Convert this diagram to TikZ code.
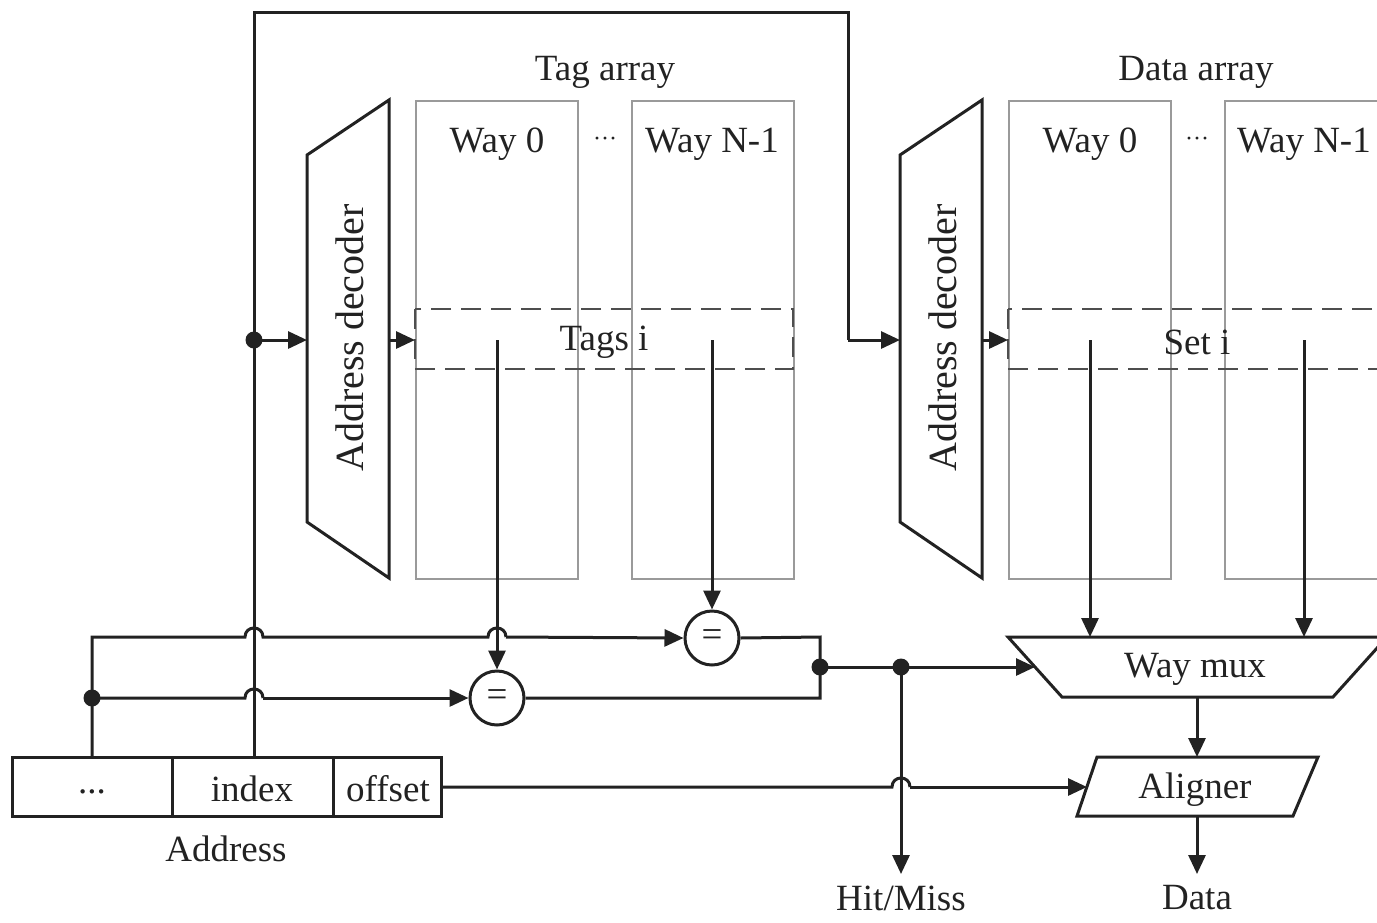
\documentclass[tikz,border=0pt]{standalone}
\usepackage{fontspec}
\setmainfont{Liberation Serif}
\usetikzlibrary{arrows.meta}
\definecolor{ink}{HTML}{222222}
\definecolor{wayc}{HTML}{9A9A9A}
\begin{document}
\begin{tikzpicture}[x=1pt,y=-1pt,
  every node/.style={font=\fontsize{37}{40}\selectfont, text=ink, inner sep=0pt},
  lbl/.style={yshift=-4pt},
  ln/.style={draw=ink, line width=3pt},
  arr/.style={ln, -{Triangle[length=19pt,width=17pt]}},
  waybox/.style={draw=wayc, line width=2.2pt, anchor=north west, minimum width=162pt, minimum height=478pt},
  dashbox/.style={draw=ink!80, line width=2.8pt, dash pattern=on 20pt off 10pt},
  shp/.style={draw=ink, line width=3pt, line join=miter},
  cmp/.style={draw=ink, line width=3pt, circle, minimum size=54pt, fill=white},
  jdot/.style={circle, fill=ink, minimum size=17pt},
  dotsl/.style={font=\fontsize{24}{26}\selectfont}]
\useasboundingbox (0,0) rectangle (1377,922);
\clip (0,0) rectangle (1377,922);

% ---------- Tag array ----------
\node[waybox] (tw0) at (415,100) {};
\node[waybox] (twN) at (631,100) {};
\draw[dashbox] (415,309) rectangle (793,369);
\node[lbl] (tagl) at (605,68) {Tag array};
\node[lbl] (tw0l) at (497,140) {Way 0};
\node[lbl] (twNl) at (712,140) {Way N-1};
\node[dotsl,lbl] (tdots) at (605,138) {\textperiodcentered\textperiodcentered\textperiodcentered};
\node[lbl] (tagsi) at (604,338) {Tags i};

\draw[shp] (307,155) -- (389,100) -- (389,578) -- (307,522) -- cycle;
\node[rotate=90, font=\fontsize{40}{42}\selectfont] (tdec) at (350,338) {Address decoder};
\coordinate (tdecL) at (307,340);
\coordinate (tdecR) at (389,340);
\coordinate (tarrL) at (415,340);

% ---------- Data array ----------
\node[waybox] (dw0) at (1008,100) {};
\node[waybox] (dwN) at (1224,100) {};
\draw[dashbox] (1008,309) rectangle (1400,369);
\node[lbl] (datl) at (1196,68) {Data array};
\node[lbl] (dw0l) at (1090,140) {Way 0};
\node[lbl] (dwNl) at (1304,140) {Way N-1};
\node[dotsl,lbl] (ddots) at (1197,138) {\textperiodcentered\textperiodcentered\textperiodcentered};
\node[lbl] (seti) at (1197,338) {Set i};

\draw[shp] (900,155) -- (982,100) -- (982,578) -- (900,522) -- cycle;
\node[rotate=90, font=\fontsize{40}{42}\selectfont] (ddec) at (943,338) {Address decoder};
\coordinate (ddecL) at (900,340);
\coordinate (ddecR) at (982,340);
\coordinate (darrL) at (1008,340);

% ---------- Way mux and aligner ----------
\draw[shp] (1008,637) -- (1387,637) -- (1333,697) -- (1062,697) -- cycle;
\node[lbl] (wmux) at (1195,665) {Way mux};
\coordinate (wmuxL) at (1035,667);
\coordinate (wmuxB) at (1197,697);
\coordinate (wmuxT0) at (1090,637);
\coordinate (wmuxTN) at (1304,637);

\draw[shp] (1097,757) -- (1318,757) -- (1293,816) -- (1077,816) -- cycle;
\node[lbl] (alig) at (1195,786) {Aligner};
\coordinate (aligT) at (1197,757);
\coordinate (aligB) at (1197,816);
\coordinate (aligL) at (1087,787);

\node (datao) at (1197,898) {Data};
\coordinate (dataT) at (1197,874);
\node (hitm) at (901,898) {Hit/Miss};
\coordinate (hitT) at (901,874);

% ---------- Address ----------
\draw[shp] (12,757) rectangle (441,816);
\draw[ln] (172,757) -- (172,816);
\draw[ln] (333,757) -- (333,816);
\node[lbl] (adots) at (92,788) {...};
\node[lbl] (aidx) at (252,785) {index};
\node[lbl] (aoff) at (388,785) {offset};
\node[lbl] (addr) at (226,845) {Address};
\coordinate (idxT) at (254,757);
\coordinate (tagT) at (92,757);
\coordinate (offR) at (441,787);

% ---------- Comparators ----------
\node[cmp] (c1) at (497,698) {=};
\node[cmp] (c2) at (712,638) {=};

% ---------- Junctions ----------
\coordinate (jA) at (254,340);
\coordinate (jB) at (92,698);
\coordinate (jC) at (820,667);
\coordinate (jD) at (901,667);

% ---------- Connectors ----------
\draw[ln] (idxT) -- (254,12) -- (848,12) -- (848,340);
\draw[arr] (848,340) -- (ddecL);
\draw[arr] (jA) -- (tdecL);
\draw[arr] (tdecR) -- (tarrL);
\draw[arr] (ddecR) -- (darrL);

\draw[arr] (497,340) -- (c1.north);
\draw[arr] (712,340) -- (c2.north);

\draw[ln] (tagT) -- (92,637) -- (245,637)
  .. controls (245,625) and (263,625) .. (263,637) -- (488,637)
  .. controls (488,625) and (506,625) .. (506,637);
\draw[arr] (506,637) -- (c2.west);
\draw[ln] (jB) -- (245,698) .. controls (245,686) and (263,686) .. (263,698);
\draw[arr] (263,698) -- (c1.west);

\draw[ln] (c2.east) -- (820,637) -- (820,698) -- (c1.east);
\draw[arr] (jC) -- (wmuxL);
\draw[arr] (jD) -- (hitT);

\draw[arr] (1090,340) -- (wmuxT0);
\draw[arr] (1304,340) -- (wmuxTN);
\draw[arr] (wmuxB) -- (aligT);
\draw[arr] (aligB) -- (dataT);

\draw[ln] (offR) -- (892,787) .. controls (892,775) and (910,775) .. (910,787);
\draw[arr] (910,787) -- (aligL);

\foreach \j in {jA,jB,jC,jD} \node[jdot] at (\j) {};
\end{tikzpicture}
\end{document}
